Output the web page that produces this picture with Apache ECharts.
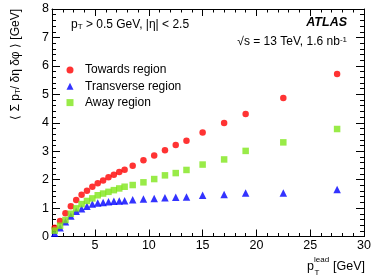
<!DOCTYPE html>
<html>
<head>
<meta charset="utf-8">
<script src="https://cdn.jsdelivr.net/npm/echarts@6/dist/echarts.min.js"></script>
<style>html,body{margin:0;padding:0;background:#fff;}#c{width:374px;height:280px;}</style>
</head>
<body>
<div id="c"></div>
<script>
var ptLead = [1.25,1.75,2.25,2.75,3.25,3.75,4.25,4.75,5.25,5.75,6.25,6.75,7.25,7.75,8.5,9.5,10.5,11.5,12.5,13.5,15,17,19,22.5,27.5];
var towards = [0.31,0.545,0.815,1.06,1.28,1.47,1.61,1.75,1.87,1.97,2.08,2.17,2.27,2.35,2.49,2.68,2.85,3.03,3.22,3.37,3.66,3.99,4.31,4.87,5.71];
var transverse = [0.11,0.31,0.52,0.72,0.885,0.98,1.06,1.14,1.18,1.20,1.22,1.24,1.25,1.26,1.295,1.32,1.34,1.365,1.38,1.39,1.45,1.48,1.53,1.53,1.65];
var away = [0.205,0.38,0.58,0.80,0.99,1.14,1.25,1.34,1.45,1.51,1.57,1.63,1.69,1.75,1.81,1.905,2.02,2.15,2.23,2.34,2.53,2.71,3.01,3.31,3.78];
var xMajorTicks = [5,10,15,20,25,30];
var seriesNames = ['Towards region','Transverse region','Away region'];

var FONT = '"Liberation Sans", Arial, Helvetica, sans-serif';
function pairs(xs, ys){ return xs.map(function(x,i){ return [x, ys[i]]; }); }

var chart = echarts.init(document.getElementById('c'), null, {renderer:'canvas'});
var lineStyle = {color:'#000', width:1};
function xAxis(pos, major, labels){
  var a = {
    type:'value', min:1, max:30, position:pos,
    axisLine:{show:major, lineStyle:lineStyle, onZero:false},
    splitLine:{show:false},
    axisLabel:{show:false}
  };
  if (major) {
    a.axisTick = {show:true, inside:true, length:7, lineStyle:lineStyle, customValues:xMajorTicks};
    if (labels) a.axisLabel = {show:true, customValues:xMajorTicks, color:'#000', fontSize:12.5, fontFamily:FONT, margin:3};
  } else {
    a.interval = 1;
    a.axisTick = {show:true, inside:true, length:3.5, lineStyle:lineStyle};
  }
  return a;
}
function yAxis(pos, labels){
  return {
    type:'value', min:0, max:8, interval:1, position:pos,
    axisLine:{show:true, lineStyle:lineStyle, onZero:false},
    axisTick:{show:true, inside:true, length:8, lineStyle:lineStyle},
    minorTick:{show:true, splitNumber:5, length:4, lineStyle:lineStyle},
    splitLine:{show:false},
    axisLabel:{show:labels, color:'#000', fontSize:12.5, fontFamily:FONT, margin:3}
  };
}

var option = {
  animation:false,
  backgroundColor:'#fff',
  grid:{left:52, right:10, top:9, bottom:43.5, containLabel:false},
  xAxis:[xAxis('bottom',true,true), xAxis('bottom',false,false), xAxis('top',true,false), xAxis('top',false,false)],
  yAxis:[yAxis('left',true), yAxis('right',false)],
  legend:{
    orient:'vertical', left:66.5, top:63, padding:0, itemWidth:7, itemHeight:7, itemGap:2.3,
    textStyle:{fontSize:12, fontFamily:FONT, color:'#000', lineHeight:14, padding:[0,0,0,6.5]},
    data:seriesNames
  },
  series:[
    {name:seriesNames[0], type:'scatter', symbol:'circle', symbolSize:6.5, itemStyle:{color:'#ff0000'}, data:pairs(ptLead,towards), z:3},
    {name:seriesNames[1], type:'scatter', symbol:'triangle', symbolSize:7.5, itemStyle:{color:'#0000ff'}, data:pairs(ptLead,transverse), z:2},
    {name:seriesNames[2], type:'scatter', symbol:'rect', symbolSize:6.5, itemStyle:{color:'#80e61a'}, data:pairs(ptLead,away), z:4}
  ],
  graphic:[
    {type:'text', x:71, y:25, style:{text:'p{s|T} > 0.5 GeV, |η| < 2.5', font:'12px '+FONT, fill:'#000', align:'left', verticalAlign:'middle',
      rich:{s:{fontSize:8, fontFamily:FONT, verticalAlign:'bottom', lineHeight:6, padding:[8,0,0,0]}}}},
    {type:'text', x:347, y:23, style:{text:'ATLAS', font:'italic bold 12.5px '+FONT, fill:'#000', align:'right', verticalAlign:'middle'}},
    {type:'text', x:347, y:42, style:{text:'√s = 13 TeV, 1.6 nb{u|-1}', font:'12px '+FONT, fill:'#000', align:'right', verticalAlign:'middle',
      rich:{u:{fontSize:8, fontFamily:FONT, verticalAlign:'top', lineHeight:6, padding:[0,0,6,0]}}}},
    {type:'text', x:16, y:9, rotation:Math.PI/2, style:{text:'⟨ Σ p{s|T}/ δη δφ ⟩ [GeV]', font:'12px '+FONT, fill:'#000', align:'right', verticalAlign:'middle',
      rich:{s:{fontSize:8, fontFamily:FONT, verticalAlign:'bottom', lineHeight:6, padding:[8,0,0,0]}}}},
    {type:'text', x:307, y:267, style:{text:'p', font:'12.5px '+FONT, fill:'#000', align:'left', verticalAlign:'middle'}},
    {type:'text', x:314, y:260, style:{text:'lead', font:'8px '+FONT, fill:'#000', align:'left', verticalAlign:'middle'}},
    {type:'text', x:314.5, y:273, style:{text:'T', font:'8px '+FONT, fill:'#000', align:'left', verticalAlign:'middle'}},
    {type:'text', x:365, y:267, style:{text:'[GeV]', font:'12.5px '+FONT, fill:'#000', align:'right', verticalAlign:'middle'}}
  ]
};
chart.setOption(option);
</script>
</body>
</html>
